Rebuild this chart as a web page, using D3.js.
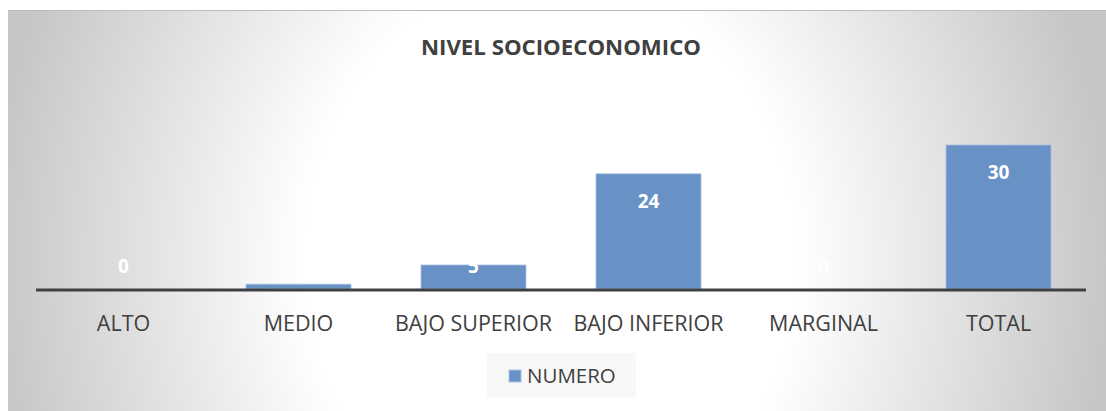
<!DOCTYPE html>
<html><head><meta charset="utf-8">
<script src="https://cdn.jsdelivr.net/npm/d3@7"></script>
<style>html,body{margin:0;padding:0;background:#fff;overflow:hidden}</style>
</head><body>
<svg id="c" width="1106" height="411"></svg>
<script>
const title = "NIVEL SOCIOECONOMICO";
const categories = ["ALTO","MEDIO","BAJO SUPERIOR","BAJO INFERIOR","MARGINAL","TOTAL"];
const values = [0,1,5,24,0,30];
const seriesName = "NUMERO";

const svg = d3.select("#c");
const defs = svg.append("defs");
const rg = defs.append("radialGradient").attr("id","bg")
  .attr("gradientUnits","userSpaceOnUse").attr("cx",550).attr("cy",260).attr("r",560)
  .attr("gradientTransform","translate(550,260) scale(1,1.16) translate(-550,-260)");
rg.append("stop").attr("offset","0").attr("stop-color","#ffffff");
rg.append("stop").attr("offset","0.44").attr("stop-color","#ffffff");
rg.append("stop").attr("offset","1").attr("stop-color","#c6c6c6");
svg.append("rect").attr("x",8).attr("y",10).attr("width",1098).attr("height",401).attr("fill","url(#bg)");
svg.append("line").attr("x1",8).attr("x2",1106).attr("y1",10.5).attr("y2",10.5).attr("stroke","#bdbdbd");

const x = d3.scaleBand().domain(categories).range([36,1086]).paddingInner(0.4).paddingOuter(0.2);
const y = d3.scaleLinear().domain([0,35]).range([289,121]);

svg.append("text").attr("x",561).attr("y",55).attr("text-anchor","middle")
  .attr("font-family","Open Sans").attr("font-weight","bold").attr("font-size",21)
  .attr("fill","#404040").attr("textLength",280).attr("lengthAdjust","spacingAndGlyphs").text(title);

svg.selectAll("rect.bar").data(values).join("rect").attr("class","bar")
  .attr("x",(d,i)=>x(categories[i])).attr("width",x.bandwidth())
  .attr("y",d=>y(d)).attr("height",d=>y(0)-y(d))
  .attr("fill","#6891c5").attr("stroke","#a9c1e0").attr("stroke-width",0.8);

svg.selectAll("text.lbl").data(values).join("text").attr("class","lbl")
  .attr("x",(d,i)=>x(categories[i])+x.bandwidth()/2)
  .attr("y",d=>Math.min(y(d)+27, y(0)-23)+7)
  .attr("text-anchor","middle").attr("font-family","Open Sans").attr("font-weight","bold")
  .attr("font-size",19).attr("fill","#ffffff").text(d=>d);

const ax = svg.append("g").attr("transform","translate(0,290)")
  .call(d3.axisBottom(x).tickSize(0).tickPadding(26));
ax.select(".domain").attr("stroke","#404040").attr("stroke-width",3).attr("d","M36,0H1086");
ax.selectAll("text").attr("font-family","Open Sans").attr("font-size",21.5).attr("fill","#404040")
  .attr("dy","0.35em").attr("y",33);

const lg = svg.append("g");
lg.append("rect").attr("x",487).attr("y",353).attr("width",149).attr("height",45).attr("fill","#f8f8f8");
lg.append("rect").attr("x",509).attr("y",370).attr("width",12).attr("height",12).attr("fill","#6891c5").attr("stroke","#a9c1e0");
lg.append("text").attr("x",527).attr("y",376).attr("dy","0.35em").attr("font-family","Open Sans")
  .attr("font-size",20.5).attr("fill","#404040").text(seriesName);
</script>
</body></html>
